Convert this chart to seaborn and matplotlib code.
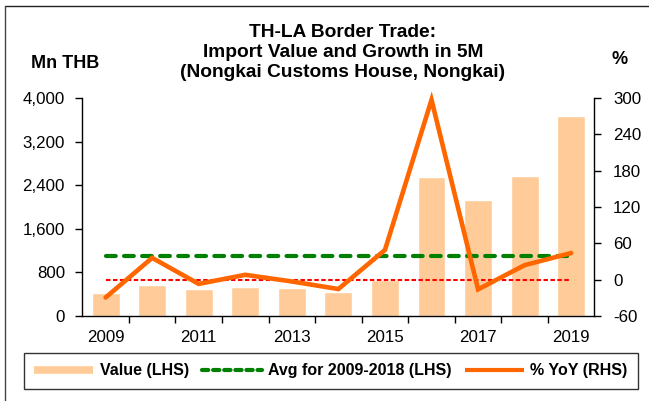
import numpy as np
import pandas as pd
import matplotlib
matplotlib.use("Agg")
import matplotlib.pyplot as plt
from matplotlib.lines import Line2D
from matplotlib.ticker import FuncFormatter, FixedLocator, NullFormatter
import seaborn as sns

# Import value (Mn THB) and year-on-year growth (%), Jan-May of each year
years = ["2009", "2010", "2011", "2012", "2013", "2014",
         "2015", "2016", "2017", "2018", "2019"]
value_mn_thb = [428, 560, 503, 540, 522, 446, 665, 2556, 2128, 2574, 3675]
yoy_pct = [-29.5, 36, -7, 8, -3, -15.5, 49, 297, -16, 24, 44]
left_ticks = [0, 800, 1600, 2400, 3200, 4000]
right_ticks = [-60, 0, 60, 120, 180, 240, 300]
labelled_years = ["2009", "2011", "2013", "2015", "2017", "2019"]

avg_2009_2018 = float(np.mean(value_mn_thb[:10]))

sns.set_theme(style="white")
plt.rcParams["font.family"] = ["Liberation Sans", "DejaVu Sans"]
plt.rcParams["lines.scale_dashes"] = False
plt.rcParams["text.color"] = "black"
plt.rcParams["legend.labelcolor"] = "black"

BAR_COLOR = "#FFCC99"
AVG_COLOR = "#008000"
ZERO_COLOR = "#FF0000"
YOY_COLOR = "#FF6600"
TICK_SIZE = 12.2

df = pd.DataFrame({"year": years, "value": value_mn_thb, "yoy": yoy_pct})
df["pos"] = np.arange(len(df))

fig = plt.figure(figsize=(6.49, 4.01), dpi=100)
ax = fig.add_axes([0.1268, 0.212, 0.916 - 0.1268, 0.7556 - 0.212])

sns.barplot(data=df, x="year", y="value", color=BAR_COLOR, saturation=1,
            width=0.6, ax=ax, zorder=1)

# average of 2009-2018 on the left scale
sns.lineplot(x=df["pos"], y=[avg_2009_2018] * len(df), ax=ax, color=AVG_COLOR,
             lw=3.0, dashes=False, zorder=3)
ax.lines[-1].set_dashes((7, 6))
ax.lines[-1].set_dash_capstyle("round")

ax.set_ylim(0, 4000)
ax.set_xlim(-0.5, len(df) - 0.5)
ax.yaxis.set_major_locator(FixedLocator(left_ticks))
ax.yaxis.set_major_formatter(FuncFormatter(lambda v, p: f"{int(v):,}"))
ax.set_xlabel("")
ax.set_ylabel("")

# x axis: tick marks between categories, labels every other year
ax.xaxis.set_major_locator(FixedLocator([years.index(y) for y in labelled_years]))
ax.set_xticklabels(labelled_years)
ax.xaxis.set_minor_locator(FixedLocator(np.arange(0.5, len(df) - 0.5, 1)))
ax.xaxis.set_minor_formatter(NullFormatter())
ax.tick_params(axis="x", which="major", length=0, pad=10.0,
               labelsize=TICK_SIZE, colors="black")
ax.tick_params(axis="x", which="minor", length=5, width=1, direction="out",
               color="black", bottom=True)
ax.tick_params(axis="y", which="major", length=5, width=1, direction="out",
               pad=7.5, labelsize=TICK_SIZE, colors="black", left=True)

# growth on the right scale
ax2 = ax.twinx()
sns.lineplot(x=df["pos"], y=[0] * len(df), ax=ax2, color=ZERO_COLOR, lw=1.5,
             dashes=False, zorder=2)
ax2.lines[-1].set_dashes((3.2, 1.8))
sns.lineplot(data=df, x="pos", y="yoy", ax=ax2, color=YOY_COLOR, lw=3.3,
             zorder=4)
ax2.lines[-1].set_clip_on(False)
ax2.lines[-1].set_solid_joinstyle("miter")
ax2.set_ylim(-60, 300)
ax2.yaxis.set_major_locator(FixedLocator(right_ticks))
ax2.yaxis.set_major_formatter(FuncFormatter(lambda v, p: f"{int(v)}"))
ax2.set_xlim(-0.5, len(df) - 0.5)
ax2.set_ylabel("")
ax2.tick_params(axis="y", which="major", length=5, width=1, direction="out",
                pad=8.5, labelsize=TICK_SIZE, colors="black", right=True)

for a in (ax, ax2):
    a.grid(False)
    a.spines["top"].set_visible(False)
    for s in ("left", "right", "bottom"):
        a.spines[s].set_color("black")
        a.spines[s].set_linewidth(1.0)
ax.spines["right"].set_visible(False)
ax2.spines["left"].set_visible(False)
ax2.spines["bottom"].set_visible(False)

# titles and unit labels
fig.text(343 / 649, 1 - 52.5 / 401,
         "TH-LA Border Trade:\nImport Value and Growth in 5M\n(Nongkai Customs House, Nongkai)",
         ha="center", va="center", fontsize=13.8, fontweight="bold",
         linespacing=1.25, color="black")
fig.text(65 / 649, 1 - 63 / 401, "Mn THB", ha="center", va="center",
         fontsize=13, fontweight="bold", color="black")
fig.text(620 / 649, 1 - 60 / 401, "%", ha="center", va="center",
         fontsize=13, fontweight="bold", color="black")

# legend
handles = [
    Line2D([], [], color=BAR_COLOR, lw=5.5, solid_capstyle="butt"),
    Line2D([], [], color=AVG_COLOR, lw=3.0, dashes=(4.5, 3.5),
           dash_capstyle="round"),
    Line2D([], [], color=YOY_COLOR, lw=3.0, solid_capstyle="butt"),
]
labels = ["Value (LHS)", "Avg for 2009-2018 (LHS)", "% YoY (RHS)"]
leg = fig.legend(handles, labels, loc="center",
                 bbox_to_anchor=(331 / 649, 1 - 371 / 401), ncol=3,
                 frameon=True, fancybox=False, handlelength=3.7,
                 handletextpad=0.4, columnspacing=0.85, borderpad=0.65,
                 prop={"weight": "bold", "size": 11.5}, labelcolor="black")
leg.get_frame().set_edgecolor("black")
leg.get_frame().set_linewidth(1.0)

# outer frame
fig.add_artist(Line2D([4.5 / 649, 1.0], [1 - 6 / 401, 1 - 6 / 401],
                      transform=fig.transFigure, color="#222222", lw=1.0))
fig.add_artist(Line2D([4.5 / 649, 4.5 / 649], [0.0, 1 - 6 / 401],
                      transform=fig.transFigure, color="#444444", lw=1.0))

fig.savefig("out.png", dpi=100)
